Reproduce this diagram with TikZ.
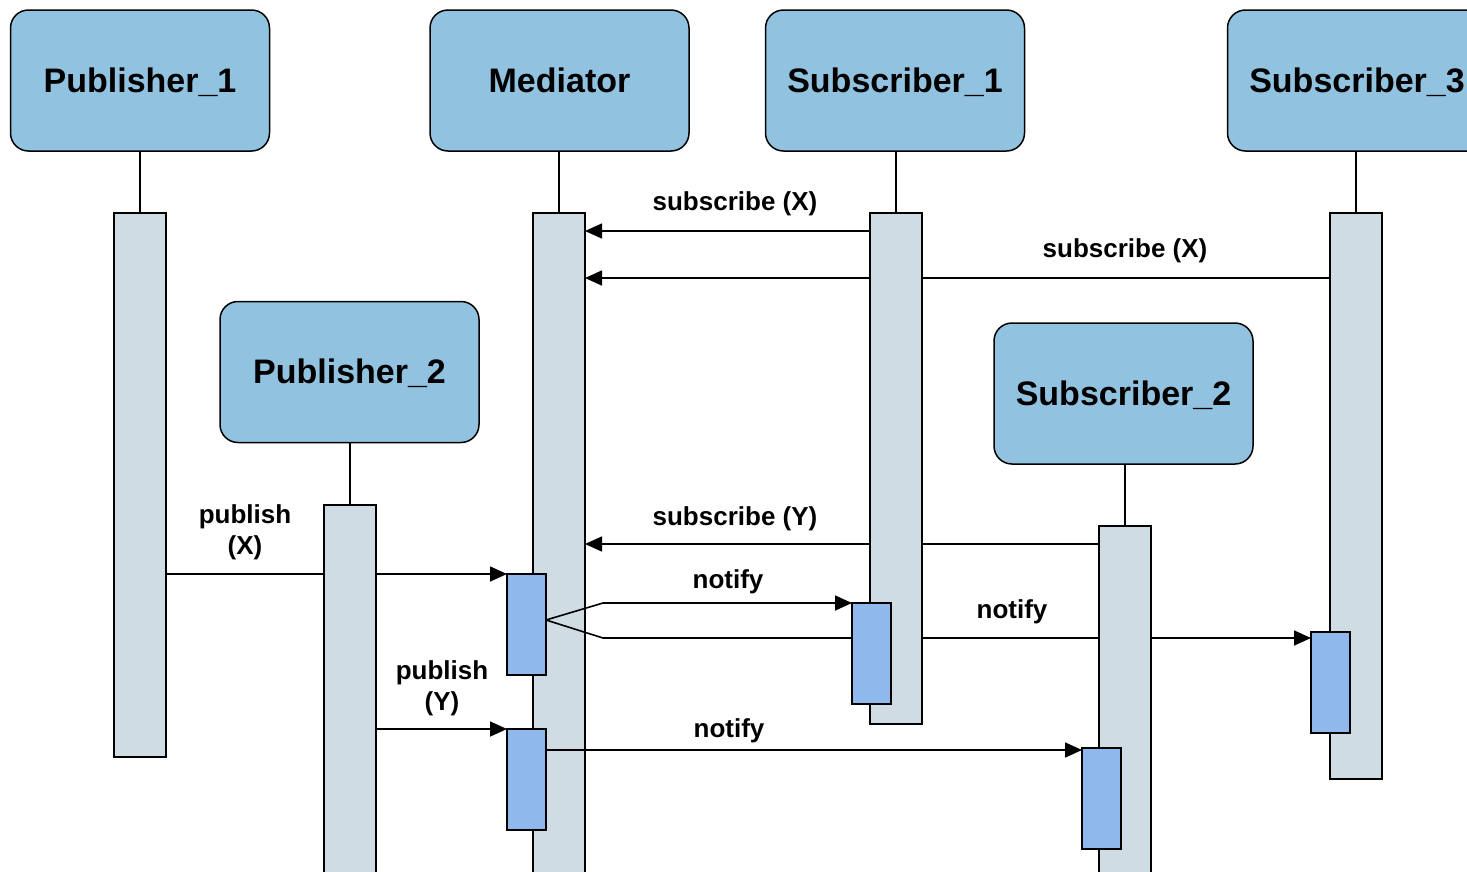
\documentclass[tikz,border=0pt]{standalone}
\usepackage{fontspec}
\setmainfont{Liberation Sans}
\usetikzlibrary{arrows.meta}
\pgfdeclarelayer{back}
\pgfdeclarelayer{mid}
\pgfsetlayers{back,mid,main}
\definecolor{headc}{HTML}{91C3E0}
\definecolor{barc}{HTML}{CFDCE3}
\definecolor{actc}{HTML}{8FB8EC}
\tikzset{
  head/.style={draw, line width=1.5pt, fill=headc, rounded corners=18pt, minimum width=259pt, minimum height=141pt, inner sep=0pt, text height=30pt, text depth=7pt, font=\fontsize{34}{40}\selectfont\bfseries},
  lbar/.style={draw, line width=1.5pt, fill=barc, minimum width=52pt, inner sep=0pt, outer sep=0pt, anchor=north west},
  act/.style={draw, line width=1.5pt, fill=actc, minimum width=39pt, minimum height=101pt, inner sep=0pt, outer sep=0pt, anchor=north west},
  life/.style={line width=1.5pt},
  msg/.style={line width=1.6pt, -{Triangle[length=17pt,width=15pt]}},
  lab/.style={font=\fontsize{26}{31}\selectfont\bfseries, align=center, inner sep=0pt}
}
\begin{document}
\begin{tikzpicture}[x=1pt,y=-1pt]
\useasboundingbox (0,0) rectangle (1467,871);
\clip (0,0) rectangle (1467,871);
% heads
\node[head] (p1) at (140,80.5) {Publisher\_1};
\node[head] (med) at (559.5,80.5) {Mediator};
\node[head] (s1) at (895,80.5) {Subscriber\_1};
\node[head] (s3) at (1357,80.5) {Subscriber\_3};
\node[head] (p2) at (349.5,372) {Publisher\_2};
\node[head] (s2) at (1123.5,393.5) {Subscriber\_2};
% bars behind messages
\begin{pgfonlayer}{back}
\node[lbar, minimum height=544pt] (p1bar) at (114,213) {};
\node[lbar, minimum height=680pt] (medbar) at (533,213) {};
\node[lbar, minimum height=566pt] (s3bar) at (1330,213) {};
\end{pgfonlayer}
% bars in front of messages
\node[lbar, minimum height=380pt] (p2bar) at (324,505) {};
\node[lbar, minimum height=511pt] (s1bar) at (870,213) {};
\node[lbar, minimum height=360pt] (s2bar) at (1099,526) {};
% activations
\node[act] (ma1) at (507,574) {};
\node[act] (ma2) at (507,729) {};
\node[act] (s1a) at (852,603) {};
\node[act] (s3a) at (1311,632) {};
\node[act] (s2a) at (1082,748) {};
% lifelines
\draw[life] (p1bar.north) -- (p1bar.north |- p1.south);
\draw[life] (medbar.north) -- (medbar.north |- med.south);
\draw[life] (s1bar.north) -- (s1bar.north |- s1.south);
\draw[life] (s3bar.north) -- (s3bar.north |- s3.south);
\draw[life] (p2bar.north) -- (p2bar.north |- p2.south);
\draw[life] (s2bar.north) -- (s2bar.north |- s2.south);
% y levels
\coordinate (ya) at (0,231);
\coordinate (yb) at (0,278);
\coordinate (yc) at (0,544);
\coordinate (yf) at (0,620);
\coordinate (yg) at (0,638);
\coordinate (yh) at (0,750);
\coordinate (fu) at (603,603);
\coordinate (fd) at (603,638);
% messages
\begin{pgfonlayer}{mid}
\draw[msg] (s1bar.west |- ya) -- (medbar.east |- ya);
\draw[msg] (s3bar.west |- yb) -- (medbar.east |- yb);
\draw[msg] (s2bar.west |- yc) -- (medbar.east |- yc);
\draw[msg] (p1bar.east |- ma1.north) -- (ma1.north west);
\draw[msg] (p2bar.east |- ma2.north) -- (ma2.north west);
\draw[msg] (ma1.east |- yf) -- (fu) -- (s1a.north west);
\draw[msg] (ma1.east |- yf) -- (fd) -- (s3a.west |- yg);
\draw[msg] (ma2.east |- yh) -- (s2a.west |- yh);
\end{pgfonlayer}
% labels
\node[lab] (l1) at (735,204) {subscribe (X)};
\node[lab] (l2) at (1125,251) {subscribe (X)};
\node[lab] (l3) at (735,519) {subscribe (Y)};
\node[lab] (l4) at (245,532) {publish\\(X)};
\node[lab] (l5) at (728,582) {notify};
\node[lab] (l6) at (1012,612) {notify};
\node[lab] (l7) at (442,688) {publish\\(Y)};
\node[lab] (l8) at (729,731) {notify};
\end{tikzpicture}
\end{document}
